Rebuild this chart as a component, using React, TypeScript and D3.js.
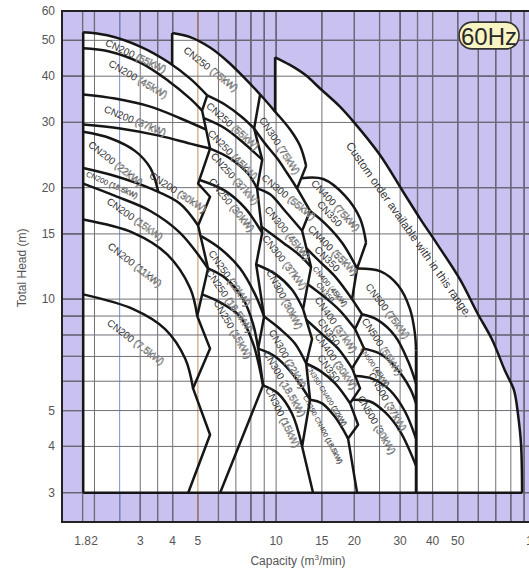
import * as d3 from 'd3';

type Pt = [number, number];

// axes
const xTicks = [1.8, 2, 3, 4, 5, 10, 15, 20, 30, 40, 50, 100];
const yTicks = [3, 4, 5, 10, 15, 20, 30, 40, 50, 60];
const xGrid = [1.8, 2, 2.5, 3, 3.5, 4, 5, 6, 7, 8, 9, 10, 15, 20, 25, 30, 35, 40, 50, 60, 70, 80, 90, 100];
const yGrid = [3, 4, 5, 6, 7, 8, 9, 10, 15, 20, 30, 40, 50];

// outer boundary of the selection area (capacity m3/min, head m)
const leftWall: Pt[] = [[1.81, 3], [1.81, 52.6]];
const baseLine: Pt[] = [[1.81, 3], [88.4, 3]];
const cn250Wall: Pt[] = [[3.98, 42.9], [3.98, 52.3]];
const envTop: Pt[] = [[3.98, 52.3], [4.67, 51.0], [5.57, 47.8], [6.54, 43.7], [7.6, 39.4], [8.68, 35.7], [9.91, 32.1]];
const cn300Crest: Pt[] = [[9.91, 32.1], [11.32, 28.7], [12.37, 25.9], [13.05, 22.9]];
const customWall: Pt[] = [[9.91, 32.1], [9.91, 45.0]];
const customCurve: Pt[] = [
  [9.91, 45.0], [11.3, 42.9], [12.9, 40.4], [14.8, 37.0], [17.6, 33.1], [19.8, 30.2], [25.1, 24.5],
  [30.8, 19.5], [35.8, 16.5], [41.6, 14.1], [51.0, 11.3], [59.3, 9.2], [67.6, 7.8], [76.0, 6.4],
  [82.3, 5.67], [85.2, 4.9], [87.6, 4.04], [88.4, 3.0],
];
const cn500Wall: Pt[] = [[34.53, 7.26], [34.53, 3]];

// CN200
const cn200Lines: Pt[][] = [
  [[1.81, 52.6], [2.24, 51.6], [3.0, 48.1], [3.84, 43.7], [4.67, 39.4], [5.43, 35.5]],
  [[1.81, 47.6], [2.26, 46.7], [3.0, 43.5], [3.84, 38.9], [4.67, 34.8], [5.19, 32.3]],
  [[1.81, 35.7], [2.4, 34.8], [3.28, 33.1], [4.27, 30.8], [5.38, 28.7]],
  [[1.81, 29.6], [2.51, 28.9], [3.58, 27.6], [4.67, 26.3], [5.57, 25.5]],
  [[1.81, 28.3], [2.3, 27.2], [2.87, 25.1], [3.28, 22.6], [3.52, 19.5]],
  [[1.81, 22.6], [2.4, 21.5], [3.28, 19.9], [4.27, 18.1], [5.01, 15.8]],
  [[1.81, 20.5], [2.4, 19.0], [3.28, 17.3], [4.27, 15.1], [5.47, 12.1]],
  [[1.81, 16.4], [2.82, 15.1], [3.81, 13.2], [4.67, 10.7], [4.97, 9.0]],
  [[1.81, 10.3], [2.82, 9.4], [3.74, 8.3], [4.47, 6.9], [4.79, 5.74]],
];
const cn200Edge: Pt[] = [
  [5.43, 35.5], [5.19, 32.3], [5.57, 25.5], [5.01, 20.5], [5.57, 18.9], [5.01, 15.8],
  [5.47, 12.1], [4.97, 9.0], [5.57, 7.35], [4.79, 5.74], [5.57, 4.3], [4.59, 3.0],
];

// CN250
const cn250Lines: Pt[][] = [
  [[5.43, 35.5], [6.37, 33.5], [7.4, 31.0], [8.23, 28.9]],
  [[5.28, 30.8], [6.37, 28.9], [7.6, 26.2], [8.84, 23.8]],
  [[5.57, 25.5], [6.65, 24.0], [7.8, 21.8], [8.45, 19.9]],
  [[5.05, 21.0], [6.37, 19.6], [7.6, 17.6], [8.84, 15.1]],
  [[5.15, 14.8], [6.09, 13.7], [7.27, 12.1], [8.3, 10.3], [8.99, 8.97]],
  [[5.47, 12.1], [6.37, 11.4], [7.47, 10.0], [8.16, 8.55], [8.53, 7.35]],
  [[5.19, 10.3], [6.09, 9.8], [7.27, 8.97], [8.16, 7.58], [8.91, 5.85]],
];
const cn250Edge: Pt[] = [
  [8.68, 35.7], [8.23, 28.9], [8.84, 23.8], [8.45, 19.9], [8.84, 15.1], [8.38, 12.4],
  [8.99, 8.97], [8.53, 7.35], [8.91, 5.85], [6.09, 3.0],
];

// CN300
const cn300Lines: Pt[][] = [
  [[8.23, 28.9], [9.07, 26.3], [10.09, 24.0], [11.02, 21.9], [12.04, 19.9]],
  [[8.45, 19.9], [9.48, 19.2], [10.83, 17.3], [12.59, 15.3]],
  [[8.76, 15.7], [10.64, 14.2], [12.37, 13.1], [13.63, 12.2]],
  [[8.38, 12.4], [9.91, 11.7], [11.52, 10.6], [12.7, 9.4]],
  [[8.99, 8.97], [10.36, 8.3], [11.83, 7.58], [13.05, 6.7]],
  [[8.53, 7.35], [9.91, 7.0], [11.52, 6.3], [13.51, 5.35]],
  [[8.91, 5.85], [10.18, 5.56], [11.52, 4.9], [12.59, 4.0]],
];
const cn300Edge: Pt[] = [
  [13.05, 22.9], [12.04, 19.9], [13.51, 17.3], [12.59, 15.3], [13.63, 12.2], [12.7, 9.4],
  [13.75, 7.8], [13.05, 6.7], [13.51, 5.35], [12.59, 4.0], [13.87, 3.0],
];

// CN350 / CN400
const cn400Lines: Pt[][] = [
  [[12.48, 21.2], [15.17, 21.1], [18.43, 19.0], [21.04, 16.5], [22.19, 14.2]],
  [[13.51, 17.3], [15.44, 16.0], [17.94, 14.2], [20.49, 12.1]],
  [[13.1, 13.7], [14.77, 12.6], [16.87, 11.5], [19.6, 10.0]],
  [[13.16, 11.0], [15.44, 10.1], [17.63, 9.3], [20.13, 8.3]],
  [[13.05, 8.8], [15.03, 8.04], [17.32, 7.35], [19.6, 6.5]],
  [[13.05, 6.7], [14.77, 6.4], [16.87, 5.92], [19.26, 5.23]],
  [[13.51, 5.35], [15.03, 5.23], [16.87, 4.8], [18.92, 4.2]],
];
const cn400Edge: Pt[] = [
  [22.19, 14.2], [20.49, 12.1], [19.6, 10.0], [21.41, 9.1], [20.13, 8.3], [21.8, 7.35],
  [19.6, 6.5], [21.04, 5.74], [19.26, 5.23], [20.67, 4.58], [18.92, 4.2], [20.49, 3.0],
];

// CN500
const cn500Lines: Pt[][] = [
  [[20.49, 12.1], [25.11, 11.9], [29.45, 10.9], [32.75, 9.4], [34.23, 8.04], [34.53, 7.26]],
  [[21.41, 9.1], [24.46, 8.8], [28.68, 7.95], [32.18, 6.8], [34.53, 5.92]],
  [[21.8, 7.35], [25.11, 7.12], [28.68, 6.57], [32.75, 5.74], [34.53, 5.23]],
  [[20.13, 6.2], [23.4, 6.1], [27.44, 5.67], [31.33, 4.97], [34.53, 4.2]],
  [[19.78, 5.35], [22.99, 5.29], [26.25, 4.95], [29.97, 4.4], [34.53, 3.55]],
];

type Lab = { m: string; kw: string; q: number; h: number; a: number; s?: number; sub?: string };

const labels: Lab[] = [
  { m: 'CN200', kw: '55kW', q: 2.89, h: 45.5, a: 25 },
  { m: 'CN200', kw: '45kW', q: 2.95, h: 39.4, a: 30 },
  { m: 'CN200', kw: '37kW', q: 2.87, h: 30.4, a: 22 },
  { m: 'CN200', kw: '22kW', q: 2.42, h: 23.3, a: 38 },
  { m: 'CN200', kw: '18.5kW', q: 2.34, h: 20.4, a: 24, s: 7.5 },
  { m: 'CN200', kw: '30kW', q: 4.2, h: 19.5, a: 33 },
  { m: 'CN200', kw: '15kW', q: 2.87, h: 16.5, a: 35 },
  { m: 'CN200', kw: '11kW', q: 2.87, h: 12.4, a: 38 },
  { m: 'CN200', kw: '7.5kW', q: 2.89, h: 7.67, a: 37 },
  { m: 'CN250', kw: '75kW', q: 5.62, h: 41.9, a: 38 },
  { m: 'CN250', kw: '55kW', q: 6.83, h: 29.4, a: 41 },
  { m: 'CN250', kw: '45kW', q: 6.83, h: 24.6, a: 45 },
  { m: 'CN250', kw: '37kW', q: 6.96, h: 21.2, a: 48 },
  { m: 'CN250', kw: '30kW', q: 6.77, h: 18.0, a: 51 },
  { m: 'CN250', kw: '22kW', q: 6.65, h: 11.4, a: 55 },
  { m: 'CN250', kw: '18.5kW', q: 6.65, h: 9.9, a: 55 },
  { m: 'CN250', kw: '15kW', q: 6.83, h: 8.3, a: 60 },
  { m: 'CN300', kw: '75kW', q: 10.36, h: 26.0, a: 57 },
  { m: 'CN300', kw: '55kW', q: 11.2, h: 18.9, a: 39 },
  { m: 'CN300', kw: '45kW', q: 11.1, h: 15.1, a: 51 },
  { m: 'CN300', kw: '37kW', q: 10.83, h: 12.6, a: 52 },
  { m: 'CN300', kw: '30kW', q: 10.83, h: 10.0, a: 62 },
  { m: 'CN300', kw: '22kW', q: 11.1, h: 6.9, a: 61 },
  { m: 'CN300', kw: '18.5kW', q: 10.83, h: 5.92, a: 60 },
  { m: 'CN300', kw: '15kW', q: 10.64, h: 4.8, a: 64 },
  { m: 'CN400', kw: '75kW', q: 16.5, h: 17.6, a: 47, sub: 'CN350' },
  { m: 'CN400', kw: '55kW', q: 16.13, h: 13.3, a: 45, sub: 'CN350' },
  { m: 'CN400', kw: '45kW', q: 15.8, h: 10.7, a: 50, s: 7.5, sub: 'CN350' },
  { m: 'CN400', kw: '37kW', q: 16.5, h: 8.4, a: 55, sub: 'CN350' },
  { m: 'CN400', kw: '30kW', q: 16.5, h: 6.7, a: 55, sub: 'CN350' },
  { m: 'CN350·CN400', kw: '22kW', q: 15.7, h: 5.5, a: 58, s: 7 },
  { m: 'CN350·CN400', kw: '18.5kW', q: 15.2, h: 4.45, a: 62, s: 7 },
  { m: 'CN500', kw: '75kW', q: 26.95, h: 9.3, a: 53 },
  { m: 'CN500', kw: '55kW', q: 25.7, h: 7.45, a: 57 },
  { m: 'CN500', kw: '45kW', q: 24.03, h: 6.57, a: 55, s: 7 },
  { m: 'CN500', kw: '37kW', q: 26.95, h: 5.29, a: 60 },
  { m: 'CN500', kw: '30kW', q: 24.46, h: 4.58, a: 60 },
];

const customNote = { text: 'Custom order available with in this range.', q: 32.5, h: 15.4, a: 55 };

const FONT = 'Liberation Sans, Arial, Helvetica, sans-serif';

export default function App() {
  const width = 529;
  const height = 570;
  const x = d3.scaleLog().domain([1.5, 100]).range([62, 536]);
  const y = d3.scaleLog().domain([2.5, 60]).range([522, 11]);

  const smooth = d3.line<Pt>().x((d) => x(d[0])).y((d) => y(d[1])).curve(d3.curveCatmullRom.alpha(0.5));
  const straight = d3.line<Pt>().x((d) => x(d[0])).y((d) => y(d[1]));

  const join = (parts: string[]) =>
    parts.map((p, i) => (i === 0 ? p : 'L' + p.slice(1))).join('') + 'Z';

  const fillA = join([
    straight(leftWall) as string,
    smooth(cn200Lines[0]) as string,
    straight(cn200Edge) as string,
  ]);
  const fillB = join([
    straight([[3.98, 3], [3.98, 52.3]]) as string,
    smooth(envTop) as string,
    straight(customWall.slice().reverse()) as string,
    smooth(customCurve) as string,
  ]);

  const curves: Pt[][] = [
    envTop.concat(cn300Crest.slice(1)),
    customCurve,
    ...cn200Lines, ...cn250Lines, ...cn300Lines, ...cn400Lines, ...cn500Lines,
  ];
  const edges: Pt[][] = [leftWall, baseLine, cn250Wall, customWall, cn500Wall, cn200Edge, cn250Edge, cn300Edge, cn400Edge];

  const left = x(1.5);
  const top = y(60);
  const bottom = y(2.5);

  return (
    <div style={{ position: 'fixed', left: 0, top: 0, width, height, background: '#fff' }}>
      <svg width={width} height={height} style={{ display: 'block' }} fontFamily={FONT}>
        <rect x={left} y={top} width={width + 40 - left} height={bottom - top} fill="#c9c1ef" />
        {/* dark grid on purple */}
        <g stroke="#3c3a52" strokeWidth={1.2}>
          {xGrid.map((v) => (
            <line key={'xv' + v} x1={x(v)} x2={x(v)} y1={top} y2={bottom} />
          ))}
          {yGrid.map((v) => (
            <line key={'yh' + v} x1={left} x2={width + 40} y1={y(v)} y2={y(v)} />
          ))}
        </g>
        <path d={fillA} fill="#fff" />
        <path d={fillB} fill="#fff" />
        {/* grid seen through the white area */}
        <g stroke="#707078" strokeWidth={1}>
          {xGrid.map((v) => (
            <line key={'xl' + v} x1={x(v)} x2={x(v)} y1={top} y2={bottom}
              stroke={v === 2.5 ? '#7f8fd0' : v === 5 ? '#c09060' : undefined} />
          ))}
          {yGrid.map((v) => (
            <line key={'yl' + v} x1={left} x2={width + 40} y1={y(v)} y2={y(v)} />
          ))}
        </g>
        <g fill="none" stroke="#161616" strokeWidth={2.5} strokeLinejoin="round">
          {curves.map((c, i) => (
            <path key={'c' + i} d={smooth(c) as string} />
          ))}
          {edges.map((c, i) => (
            <path key={'e' + i} d={straight(c) as string} />
          ))}
        </g>
        <rect x={left} y={top} width={width + 40 - left} height={bottom - top} fill="none" stroke="#222" strokeWidth={2} />

        {labels.map((l, i) => {
          const fs = l.s ?? 10;
          return (
            <g key={'l' + i} transform={`translate(${x(l.q)},${y(l.h)}) rotate(${l.a})`}>
              <text textAnchor="middle" dominantBaseline="central" fontSize={fs} y={l.sub ? -fs * 0.45 : 0}>
                <tspan fill="#333">{l.m}</tspan>
                <tspan fill="#fff" stroke="#4e4e4e" strokeWidth={0.45} dx={fs * 0.25}>({l.kw})</tspan>
              </text>
              {l.sub && (
                <text textAnchor="middle" dominantBaseline="central" fontSize={fs} x={fs * 0.2} y={fs * 0.6} fill="#333">
                  {l.sub}
                </text>
              )}
            </g>
          );
        })}

        <text transform={`translate(${x(customNote.q)},${y(customNote.h)}) rotate(${customNote.a})`}
          textAnchor="middle" dominantBaseline="central" fontSize={11.5} fill="#333">
          {customNote.text}
        </text>

        {/* 60Hz badge */}
        <rect x={x(50.6)} y={y(56)} width={x(86) - x(50.6)} height={y(47.4) - y(56)} rx={13} fill="#f8f4c4" stroke="#333" strokeWidth={1.6} />
        <text x={(x(50.6) + x(86)) / 2} y={y(47.4) - 4} textAnchor="middle" fontSize={24} fill="#2a2a2a">60Hz</text>

        {/* axis labels */}
        <g fontSize={12} fill="#555">
          {yTicks.map((v) => (
            <text key={'yt' + v} x={left - 7} y={y(v) + 4} textAnchor="end">{v}</text>
          ))}
          {xTicks.map((v) => (
            <text key={'xt' + v} x={x(v)} y={bottom + 23} textAnchor="middle">{v}</text>
          ))}
        </g>
        <text transform={`translate(26,${(y(3) + y(60)) / 2 + 16}) rotate(-90)`} textAnchor="middle" fontSize={12} fill="#555">
          Total Head (m)
        </text>
        <text x={298} y={565} textAnchor="middle" fontSize={12} fill="#555">
          Capacity (m<tspan dy={-5} fontSize={8}>3</tspan><tspan dy={5}>/min)</tspan>
        </text>
      </svg>
    </div>
  );
}
